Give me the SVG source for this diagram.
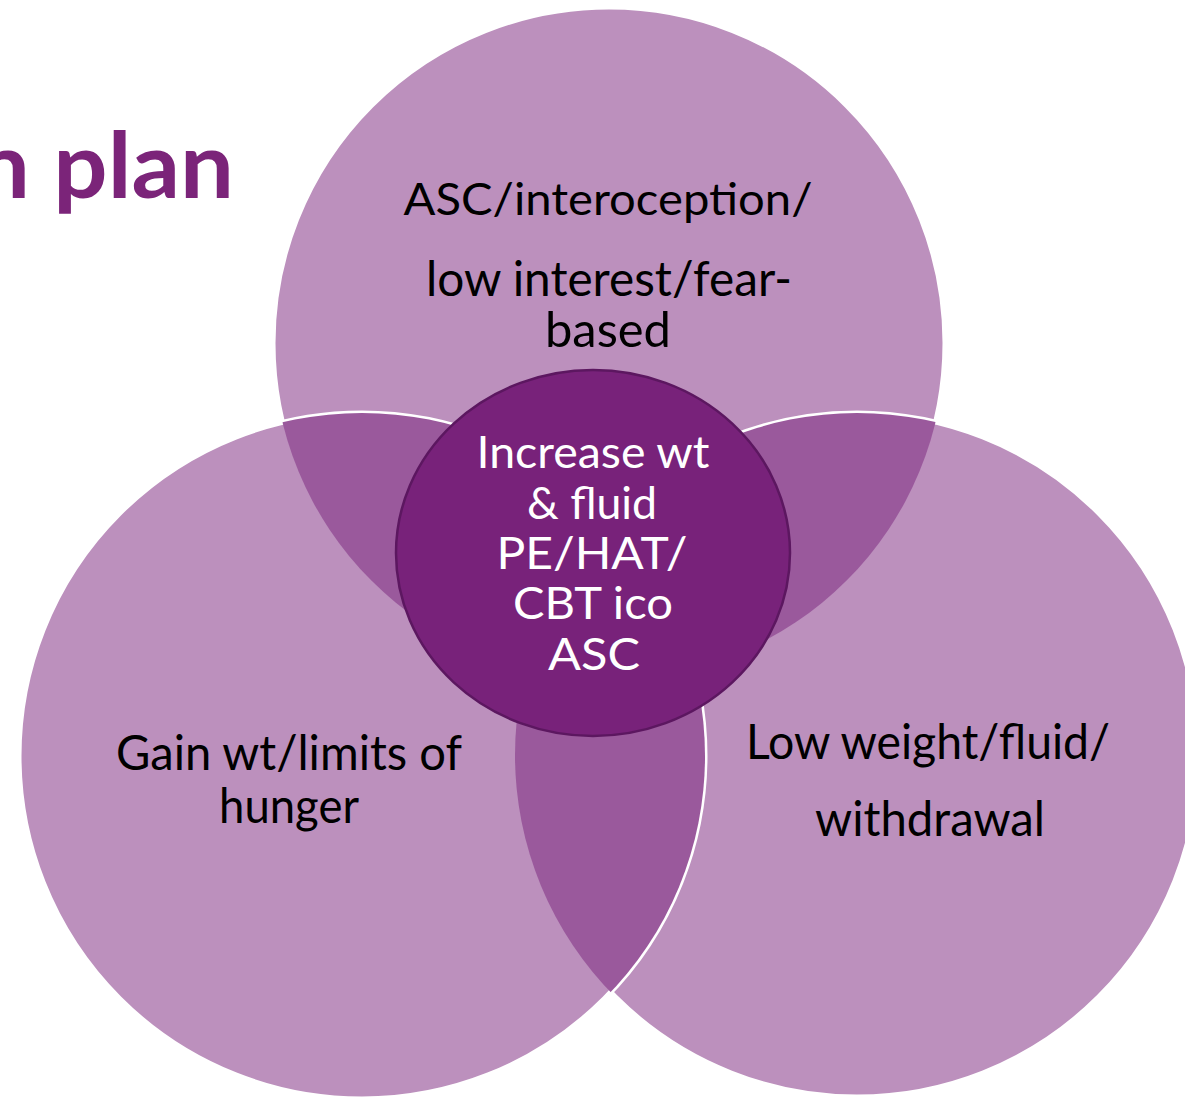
<svg xmlns="http://www.w3.org/2000/svg" width="1185" height="1097" viewBox="0 0 1185 1097">
  <style>
    .disc { fill: #bc90bd; stroke: #ffffff; stroke-width: 5; }
    .lens { fill: #9a599c; }
    .lbl { font-family: Lato, "Liberation Sans", sans-serif; fill: #000000; text-anchor: middle; }
    .core { font-family: Lato, "Liberation Sans", sans-serif; fill: #ffffff; text-anchor: middle; font-size: 45px; }
    .title { font-family: Lato, "Liberation Sans", sans-serif; font-weight: 700; fill: #7b2479; font-size: 92px; }
  </style>
  <defs>
    <clipPath id="clipTop"><circle cx="609" cy="343" r="336"/></clipPath>
    <clipPath id="clipLeft"><circle cx="362" cy="756" r="343"/></clipPath>
  </defs>

  <rect width="1185" height="1097" fill="#ffffff"/>

  <text class="title" x="-24" y="198" textLength="258" lengthAdjust="spacingAndGlyphs">n plan</text>

  <!-- outer circles -->
  <g id="circle-top">
    <circle class="disc" cx="609" cy="343" r="336"/>
  </g>
  <g id="circle-right">
    <circle class="disc" cx="857" cy="755" r="342"/>
  </g>
  <g id="circle-left">
    <circle class="disc" cx="362" cy="756" r="343"/>
  </g>

  <!-- pairwise overlaps -->
  <g id="overlaps">
    <circle class="lens" cx="362" cy="756" r="343" clip-path="url(#clipTop)"/>
    <circle class="lens" cx="857" cy="755" r="342" clip-path="url(#clipTop)"/>
    <circle class="lens" cx="857" cy="755" r="342" clip-path="url(#clipLeft)"/>
  </g>

  <!-- circle labels -->
  <g id="label-top">
    <text class="lbl" x="608" y="215" font-size="44" textLength="409" lengthAdjust="spacingAndGlyphs">ASC/interoception/</text>
    <text class="lbl" x="609" y="296" font-size="48" textLength="366" lengthAdjust="spacingAndGlyphs">low interest/fear-</text>
    <text class="lbl" x="608" y="347" font-size="48" textLength="126" lengthAdjust="spacingAndGlyphs">based</text>
  </g>
  <g id="label-left">
    <text class="lbl" x="289" y="770" font-size="48" textLength="346" lengthAdjust="spacingAndGlyphs">Gain wt/limits of</text>
    <text class="lbl" x="289" y="823" font-size="48" textLength="140" lengthAdjust="spacingAndGlyphs">hunger</text>
  </g>
  <g id="label-right">
    <text class="lbl" x="928" y="759" font-size="48" textLength="364" lengthAdjust="spacingAndGlyphs">Low weight/fluid/</text>
    <text class="lbl" x="930" y="836" font-size="48" textLength="230" lengthAdjust="spacingAndGlyphs">withdrawal</text>
  </g>

  <!-- centre node -->
  <g id="centre">
    <ellipse cx="593" cy="553" rx="197" ry="183" fill="#78227a" stroke="#5c1760" stroke-width="2.5"/>
    <text class="core" x="593" y="468" textLength="233" lengthAdjust="spacingAndGlyphs">Increase wt</text>
    <text class="core" x="592" y="519" textLength="130" lengthAdjust="spacingAndGlyphs">&amp; fluid</text>
    <text class="core" x="592" y="569" textLength="191" lengthAdjust="spacingAndGlyphs">PE/HAT/</text>
    <text class="core" x="593" y="619" textLength="160" lengthAdjust="spacingAndGlyphs">CBT ico</text>
    <text class="core" x="594" y="670" textLength="92" lengthAdjust="spacingAndGlyphs">ASC</text>
  </g>
</svg>
